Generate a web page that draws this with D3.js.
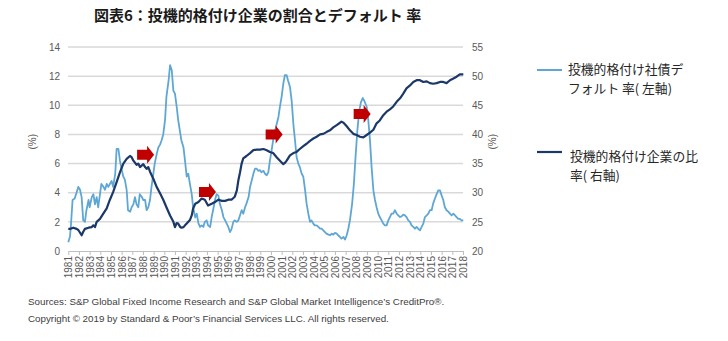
<!DOCTYPE html>
<html lang="ja">
<head>
<meta charset="UTF-8" />
<title>図表6 投機的格付け企業の割合とデフォルト率</title>
<script src="https://cdn.jsdelivr.net/npm/d3@7"></script>
<style>
  body { margin: 0; background: #fff; }
  svg { display: block; background: #fff; font-family: 'Liberation Sans', Arial, sans-serif; }
  .jp { font-family: 'Noto Sans CJK JP', sans-serif; }
  .grid line { stroke: #d9d9d9; stroke-width: 1.5; }
  .axis text { fill: #595959; font-size: 10px; }
  .axis .domain { stroke: #bfbfbf; }
  .axis .tick line { stroke: #bfbfbf; }
</style>
</head>
<body>
<svg width="728" height="341"></svg>
<script>
// years on the x axis
const years = d3.range(1981, 2019);
const leftTicks = [0, 2, 4, 6, 8, 10, 12, 14];
const rightTicks = [20, 25, 30, 35, 40, 45, 50, 55];

// speculative-grade corporate default rate (left axis, %)
const defaultDates = [
  1981.0, 1981.16, 1981.25, 1981.4, 1981.6, 1981.94,
  1982.1, 1982.25, 1982.4, 1982.56, 1982.7, 1982.9,
  1983.0, 1983.2, 1983.35, 1983.5, 1983.66, 1983.8, 1983.97,
  1984.1, 1984.3, 1984.44, 1984.6, 1984.75, 1984.9,
  1985.06, 1985.2, 1985.4, 1985.53, 1985.7, 1985.84,
  1986.0, 1986.16, 1986.3, 1986.47, 1986.6, 1986.8, 1986.94,
  1987.1, 1987.25, 1987.4, 1987.56, 1987.7, 1987.9,
  1988.03, 1988.2, 1988.34, 1988.5, 1988.66, 1988.8, 1988.97,
  1989.1, 1989.3, 1989.44, 1989.6, 1989.75, 1989.9,
  1990.07, 1990.2, 1990.4, 1990.54, 1990.7, 1990.85,
  1991.0, 1991.16, 1991.3, 1991.5, 1991.6, 1991.8, 1991.94,
  1992.1, 1992.25, 1992.4, 1992.57, 1992.7, 1992.9,
  1993.04, 1993.2, 1993.35, 1993.5, 1993.66, 1993.8, 1993.97,
  1994.1, 1994.3, 1994.44, 1994.6, 1994.75, 1994.9,
  1995.07, 1995.2, 1995.4, 1995.54, 1995.7, 1995.85,
  1996.0, 1996.16, 1996.3, 1996.47, 1996.6, 1996.8, 1996.94,
  1997.1, 1997.25, 1997.4, 1997.57, 1997.7, 1997.9,
  1998.04, 1998.2, 1998.35, 1998.5, 1998.66, 1998.8, 1998.97,
  1999.1, 1999.3, 1999.44, 1999.6, 1999.75, 1999.9,
  2000.06, 2000.2, 2000.4, 2000.53, 2000.7, 2000.84,
  2001.0, 2001.16, 2001.3, 2001.47, 2001.6, 2001.78, 2001.94,
  2002.1, 2002.25, 2002.4, 2002.56, 2002.7, 2002.88,
  2003.03, 2003.2, 2003.34, 2003.5, 2003.66, 2003.8, 2003.97,
  2004.1, 2004.28, 2004.44, 2004.6, 2004.75, 2004.9,
  2005.06, 2005.2, 2005.4, 2005.53, 2005.7, 2005.84,
  2006.0, 2006.16, 2006.3, 2006.47, 2006.6, 2006.8, 2006.94,
  2007.1, 2007.25, 2007.4, 2007.6, 2007.77, 2007.93,
  2008.1, 2008.27, 2008.43, 2008.6, 2008.75, 2008.97,
  2009.12, 2009.28, 2009.43, 2009.6, 2009.75, 2009.9,
  2010.06, 2010.2, 2010.37, 2010.53, 2010.68, 2010.84,
  2011.0, 2011.15, 2011.3, 2011.46, 2011.62, 2011.78, 2011.93,
  2012.1, 2012.24, 2012.4, 2012.56, 2012.7, 2012.87,
  2013.03, 2013.18, 2013.34, 2013.5, 2013.65, 2013.8, 2013.97,
  2014.12, 2014.28, 2014.43, 2014.6, 2014.75, 2014.9,
  2015.06, 2015.2, 2015.37, 2015.53, 2015.68, 2015.84,
  2016.0, 2016.15, 2016.3, 2016.46, 2016.62, 2016.78, 2016.93,
  2017.1, 2017.25, 2017.4, 2017.56, 2017.7, 2017.87, 2018.03
];
const defaultRate = [
  0.6, 1.0, 1.8, 3.5, 3.6, 4.4,
  4.2, 3.7, 2.1, 2.0, 2.8, 3.5,
  3.0, 3.7, 3.9, 3.2, 3.7, 3.0, 3.9,
  4.6, 4.4, 4.2, 4.6, 4.4, 4.6,
  4.8, 4.4, 5.3, 7.0, 7.0, 6.2,
  5.6, 5.1, 4.9, 4.2, 2.8, 2.7, 3.0,
  3.2, 3.7, 3.2, 3.0, 3.9, 3.7,
  3.5, 3.5, 2.8, 3.0, 3.5, 4.4, 5.3,
  6.0, 6.7, 7.1, 7.3, 7.6, 8.0,
  9.0, 10.6, 11.7, 12.75, 12.4, 11.0,
  10.8, 9.9, 9.0, 8.05, 7.6, 7.1, 6.2,
  5.1, 5.3, 4.6, 3.9, 3.0, 2.3,
  2.56, 1.9, 1.65, 1.76, 1.65, 2.0, 2.1,
  1.76, 1.65, 2.33, 2.9, 3.5, 3.9,
  3.8, 3.25, 2.8, 2.33, 2.1, 1.88,
  1.65, 1.3, 1.5, 2.0, 2.1, 2.0, 2.1,
  2.45, 2.8, 2.56, 3.0, 3.25, 3.7,
  4.4, 4.85, 5.3, 5.65, 5.65, 5.5, 5.55,
  5.4, 5.5, 5.3, 5.2, 5.4, 6.2,
  6.9, 7.6, 8.3, 8.7, 9.2, 9.9,
  10.6, 11.5, 12.06, 12.06, 11.7, 11.26, 10.3,
  8.7, 7.6, 6.45, 6.0, 5.77, 5.3,
  5.1, 4.16, 3.25, 2.56, 2.0, 2.1, 1.88,
  1.76, 1.76, 1.65, 1.53, 1.53, 1.42,
  1.3, 1.19, 1.12, 1.08, 1.19, 1.12,
  1.24, 1.19, 1.08, 0.96, 0.85, 0.96, 0.78,
  1.08, 1.53, 2.1, 3.2, 4.6, 6.5,
  8.3, 9.6, 10.2, 10.5, 10.3, 9.9,
  9.0, 7.6, 5.77, 4.16, 3.5, 3.0,
  2.56, 2.33, 2.1, 1.88, 1.76, 1.76,
  2.1, 2.33, 2.56, 2.56, 2.8, 2.56, 2.45,
  2.33, 2.38, 2.5, 2.45, 2.33, 2.1,
  2.0, 1.76, 1.65, 1.53, 1.65, 1.53, 1.42,
  1.65, 1.88, 2.33, 2.45, 2.56, 2.8,
  2.8, 3.25, 3.6, 3.9, 4.16, 4.16,
  3.8, 3.5, 3.0, 2.8, 2.7, 2.56, 2.45,
  2.56, 2.45, 2.33, 2.2, 2.2, 2.1, 2.1
];

// share of speculative-grade issuers (right axis, %)
const shareDates = [
  1981.0, 1981.16, 1981.47, 1981.78, 1981.94,
  1982.25, 1982.4, 1982.56, 1982.9,
  1983.2, 1983.35, 1983.5, 1983.66, 1983.97,
  1984.28, 1984.6, 1984.9,
  1985.2, 1985.53, 1985.84,
  1986.16, 1986.47, 1986.78, 1986.94,
  1987.1, 1987.4, 1987.56, 1987.72,
  1988.03, 1988.2, 1988.34, 1988.5, 1988.66, 1988.97,
  1989.28, 1989.6, 1989.9,
  1990.2, 1990.54, 1990.85,
  1991.0, 1991.16, 1991.3, 1991.5, 1991.6, 1991.8, 1991.94,
  1992.1, 1992.4, 1992.57, 1992.7, 1992.9,
  1993.2, 1993.5, 1993.8,
  1994.1, 1994.44, 1994.75,
  1995.07, 1995.4, 1995.7,
  1996.0, 1996.3, 1996.6, 1996.8, 1996.94,
  1997.1, 1997.25, 1997.4, 1997.7,
  1998.04, 1998.35, 1998.66, 1998.97,
  1999.3, 1999.6, 1999.9,
  2000.2, 2000.53, 2000.84,
  2001.16, 2001.3, 2001.47, 2001.78,
  2002.1, 2002.4, 2002.7,
  2003.03, 2003.34, 2003.66, 2003.97,
  2004.28, 2004.6, 2004.9,
  2005.2, 2005.53, 2005.84,
  2006.16, 2006.47, 2006.6, 2006.8,
  2007.1, 2007.4, 2007.72,
  2008.03, 2008.34, 2008.66, 2008.97,
  2009.28, 2009.6, 2009.9,
  2010.2, 2010.53, 2010.84,
  2011.15, 2011.46, 2011.78,
  2012.1, 2012.4, 2012.7,
  2013.03, 2013.34, 2013.65, 2013.97,
  2014.28, 2014.6, 2014.9,
  2015.2, 2015.53, 2015.84,
  2016.15, 2016.46, 2016.78,
  2017.1, 2017.4, 2017.7, 2018.03
];
const shareSpec = [
  23.8, 23.8, 24.0, 23.8, 23.6,
  22.7, 23.3, 23.8, 24.0,
  24.1, 24.4, 24.1, 25.0, 25.5,
  26.4, 27.3, 28.8,
  30.1, 31.8, 33.5,
  35.0, 35.8, 36.3, 36.1,
  35.5, 34.8, 35.0, 34.4,
  34.9, 34.4, 34.1, 34.4, 33.6, 32.4,
  31.0, 29.9, 28.8,
  27.5, 26.1, 25.0,
  24.1, 24.8, 24.7, 24.1, 24.0, 24.1, 24.4,
  24.7, 25.3, 26.1, 27.3, 28.1,
  28.4, 29.0, 28.8,
  27.8, 28.1, 28.4,
  28.8, 28.6, 28.6,
  28.8, 28.8, 29.3, 30.4, 32.1,
  33.5, 35.0, 35.9, 36.3,
  36.8, 37.3, 37.4, 37.4,
  37.5, 37.3, 37.0,
  36.8, 36.1, 35.5,
  34.9, 35.1, 35.5, 36.4,
  36.8, 37.0, 37.5,
  38.0, 38.4, 38.9, 39.3,
  39.6, 40.0, 40.1,
  40.4, 40.7, 41.2,
  41.6, 42.0, 42.2, 42.0,
  41.4, 40.7, 40.1,
  39.9, 39.6, 39.5, 39.9,
  40.3, 40.8, 41.9,
  42.4, 43.3, 43.9,
  44.3, 44.8, 45.6,
  46.2, 47.0, 47.9,
  48.4, 49.0, 49.3, 49.3,
  49.0, 49.1, 48.8,
  48.7, 48.8, 49.0,
  49.0, 48.8, 49.3,
  49.6, 49.9, 50.3, 50.3
];

// red arrow annotations (date, left-axis level of the arrow centre)
const arrowDates = [1988.2, 1994.0, 2000.25, 2008.5];
const arrowLevels = [6.6, 4.05, 8.0, 9.4];

const svg = d3.select('svg');

const x = d3.scaleLinear().domain([1981, 2018]).range([68.3, 463]);
const yL = d3.scaleLinear().domain([0, 14]).range([251, 47]);
const yR = d3.scaleLinear().domain([20, 55]).range([251, 47]);

// title
svg.append('text')
  .attr('class', 'jp')
  .attr('x', 94).attr('y', 21)
  .attr('font-size', 15).attr('font-weight', 'bold')
  .attr('fill', '#1a1a1a')
  .text('図表6：投機的格付け企業の割合とデフォルト 率');

// gridlines
svg.append('g').attr('class', 'grid')
  .selectAll('line')
  .data(leftTicks.slice(1))
  .join('line')
  .attr('x1', 68).attr('x2', 463)
  .attr('y1', d => yL(d)).attr('y2', d => yL(d));

// x axis
const xAxis = svg.append('g').attr('class', 'axis')
  .attr('transform', `translate(0,${yL(0)})`)
  .call(d3.axisBottom(x).tickValues(years).tickFormat(d3.format('d')).tickSize(4).tickSizeOuter(0));
xAxis.selectAll('text')
  .attr('transform', 'rotate(-90)')
  .attr('x', -5).attr('y', 0).attr('dy', '0.35em')
  .style('text-anchor', 'end');

// left axis
const lAxis = svg.append('g').attr('class', 'axis')
  .attr('transform', 'translate(68,0)')
  .call(d3.axisLeft(yL).tickValues(leftTicks).tickSize(0).tickPadding(8));
lAxis.select('.domain').remove();

// right axis
const rAxis = svg.append('g').attr('class', 'axis')
  .attr('transform', 'translate(463,0)')
  .call(d3.axisRight(yR).tickValues(rightTicks).tickSize(0).tickPadding(9));
rAxis.select('.domain').remove();

// axis titles
svg.append('text')
  .attr('transform', `translate(36,${yL(7.5)}) rotate(-90)`)
  .attr('text-anchor', 'middle').attr('font-size', 10).attr('fill', '#595959')
  .text('(%)');
svg.append('text')
  .attr('transform', `translate(496,${yL(7.5)}) rotate(-90)`)
  .attr('text-anchor', 'middle').attr('font-size', 10).attr('fill', '#595959')
  .text('(%)');

// lines
const lightBlue = '#5ea7d4';
const navy = '#1b3868';

const lineL = d3.line().x(d => x(d[0])).y(d => yL(d[1]));
const lineR = d3.line().x(d => x(d[0])).y(d => yR(d[1]));

svg.append('path')
  .datum(d3.zip(defaultDates, defaultRate))
  .attr('fill', 'none').attr('stroke', lightBlue).attr('stroke-width', 1.8)
  .attr('stroke-linejoin', 'round')
  .attr('d', lineL);

svg.append('path')
  .datum(d3.zip(shareDates, shareSpec))
  .attr('fill', 'none').attr('stroke', navy).attr('stroke-width', 2.2)
  .attr('stroke-linejoin', 'round')
  .attr('d', lineR);

// arrows
const arrowPath = 'M-8,-5 L2,-5 L2,-9 L9,0 L2,9 L2,5 L-8,5 Z';
svg.append('g')
  .selectAll('path')
  .data(d3.zip(arrowDates, arrowLevels))
  .join('path')
  .attr('transform', d => `translate(${x(d[0])},${yL(d[1])})`)
  .attr('d', arrowPath)
  .attr('fill', '#c00000');

// legend
const legend = svg.append('g').attr('class', 'jp').attr('font-size', 12.8).attr('fill', '#262626');
legend.append('line').attr('x1', 537).attr('x2', 562).attr('y1', 70).attr('y2', 70)
  .attr('stroke', lightBlue).attr('stroke-width', 2);
legend.append('text').attr('x', 568).attr('y', 74).text('投機的格付け社債デ');
legend.append('text').attr('x', 568).attr('y', 92.8).text('フォルト 率( 左軸)');
legend.append('line').attr('x1', 537).attr('x2', 562).attr('y1', 152).attr('y2', 152)
  .attr('stroke', navy).attr('stroke-width', 2.2);
legend.append('text').attr('x', 570).attr('y', 161).text('投機的格付け企業の比');
legend.append('text').attr('x', 570).attr('y', 179.8).text('率( 右軸)');

// source notes
const notes = svg.append('g').attr('font-size', 9.8).attr('fill', '#404040');
notes.append('text').attr('x', 28).attr('y', 305)
  .text('Sources: S&P Global Fixed Income Research and S&P Global Market Intelligence\u2019s CreditPro\u00ae.');
notes.append('text').attr('x', 28).attr('y', 322)
  .text('Copyright \u00a9 2019 by Standard & Poor\u2019s Financial Services LLC. All rights reserved.');
</script>
</body>
</html>
